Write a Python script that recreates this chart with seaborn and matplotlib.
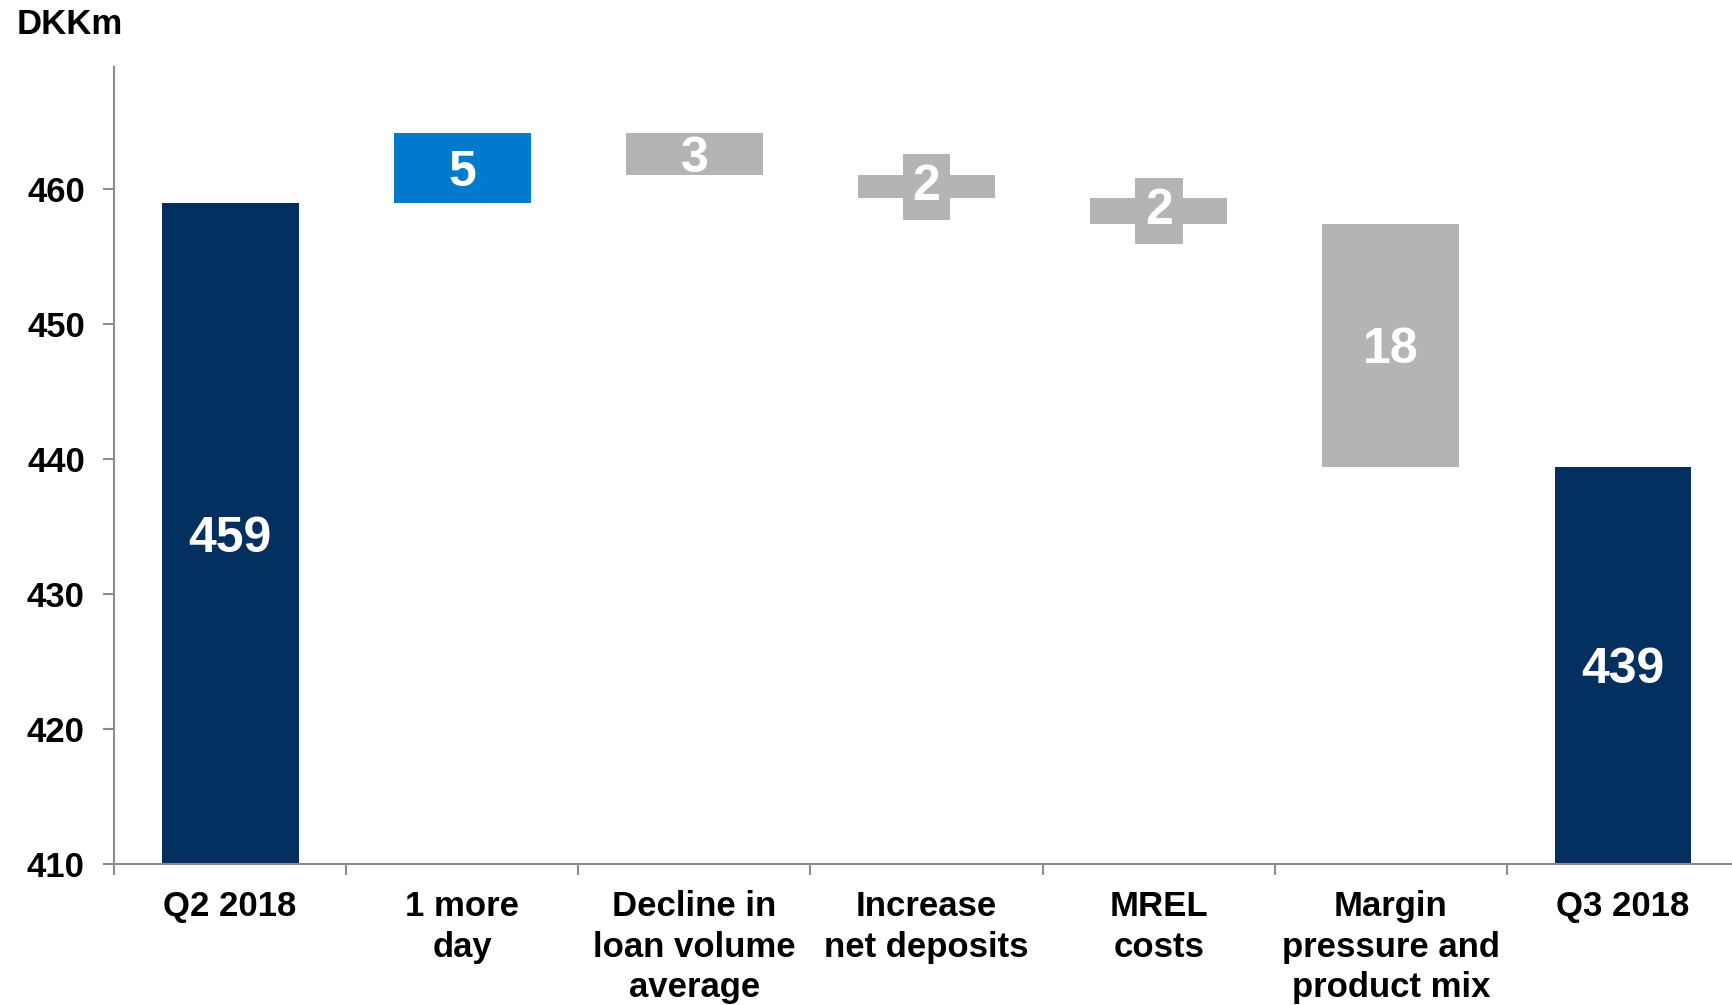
import matplotlib
matplotlib.use("Agg")
import matplotlib.pyplot as plt
import seaborn as sns
import numpy as np
import pandas as pd
from matplotlib.ticker import FixedLocator

# ---- data ----
categories = ["Q2 2018", "1 more\nday", "Decline in\nloan volume\naverage",
              "Increase\nnet deposits", "MREL\ncosts", "Margin\npressure and\nproduct mix",
              "Q3 2018"]
start_value = 458.9
changes = [5.2, -3.1, -1.7, -1.9, -18.0]
y_ticks = [410, 420, 430, 440, 450, 460]
unit_label = "DKKm"

NAVY = "#03305F"
BLUE = "#007ACC"
GREY = "#B3B4B6"
AXIS = "#8C8C8C"

# ---- waterfall geometry from data ----
end_value = start_value + sum(changes)
bottoms, tops, labels, colors = [], [], [], []
bottoms.append(410); tops.append(start_value); labels.append(f"{start_value:.0f}"); colors.append(NAVY)
level = start_value
for c in changes:
    new = level + c
    bottoms.append(min(level, new)); tops.append(max(level, new))
    labels.append(f"{abs(c):.0f}")
    colors.append(BLUE if c > 0 else GREY)
    level = new
bottoms.append(410); tops.append(end_value); labels.append(f"{end_value:.0f}"); colors.append(NAVY)

df = pd.DataFrame({"cat": categories, "top": tops, "bottom": bottoms})

sns.set_theme(style="white")
plt.rcParams["font.family"] = ["Liberation Sans", "DejaVu Sans"]
plt.rcParams["font.weight"] = "bold"
plt.rcParams["text.color"] = "black"
plt.rcParams["xtick.color"] = "black"
plt.rcParams["ytick.color"] = "black"

fig = plt.figure(figsize=(17.33, 10.05), dpi=100)
ax = fig.add_axes([0.0658, 0.1403, 0.9377, 0.793])

sns.barplot(data=df, x="cat", y="top", hue="cat", palette=colors, legend=False,
            width=0.59, saturation=1, ax=ax, order=categories, hue_order=categories)

# make the bars float
for patch, b, t in zip(ax.patches, bottoms, tops):
    patch.set_y(b)
    patch.set_height(t - b)
    patch.set_edgecolor("none")

for i, (b, t, lab, col) in enumerate(zip(bottoms, tops, labels, colors)):
    kw = {"va": "center_baseline"}
    if (t - b) < 2.5:
        kw["bbox"] = dict(boxstyle="square,pad=0.2", fc=col, ec="none")
        kw["va"] = "center"
    ax.text(i, (b + t) / 2, lab, ha="center", color="white",
            fontsize=36, fontweight="bold", **kw)

ax.set_xlim(-0.5, 6.5)
ax.set_ylim(410, 469)
ax.set_yticks(y_ticks)
ax.set_xlabel("")
ax.set_ylabel("")
for s in ["top", "right"]:
    ax.spines[s].set_visible(False)
for s in ["left", "bottom"]:
    ax.spines[s].set_color(AXIS)
    ax.spines[s].set_linewidth(1.5)

ax.tick_params(axis="y", which="major", length=8, width=1.5, color=AXIS, pad=13,
               labelsize=25, left=True, labelcolor="black")
ax.tick_params(axis="x", which="major", length=0, pad=19, labelsize=25, labelcolor="black")
ax.xaxis.set_minor_locator(FixedLocator(np.arange(-0.5, 7, 1.0)))
ax.tick_params(axis="x", which="minor", length=8, width=1.5, color=AXIS, bottom=True)
for lbl in ax.get_xticklabels():
    lbl.set_linespacing(1.28)
    lbl.set_fontweight("bold")
for lbl in ax.get_yticklabels():
    lbl.set_fontweight("bold")

fig.text(0.0098, 1 - 24 / 1005, unit_label, ha="left", va="center",
         fontsize=25, fontweight="bold", color="black")

fig.savefig("out.png", dpi=100)
